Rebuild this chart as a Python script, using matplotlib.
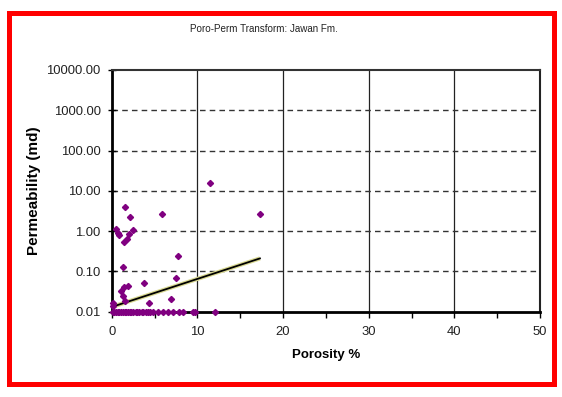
import matplotlib
matplotlib.use("Agg")
import matplotlib.pyplot as plt
from matplotlib.patches import Rectangle
from matplotlib.ticker import FixedLocator, FormatStrFormatter

plt.rcParams["font.family"] = ["Liberation Sans", "DejaVu Sans"]

# core data: porosity (%) vs permeability (md)
poro = [11.45, 1.52, 2.1, 5.9, 17.3, 0.5, 0.77, 0.8, 2.0, 2.45, 1.48, 1.76,
        7.7, 1.32, 7.5, 3.75, 1.45, 1.9, 1.05, 1.37, 1.6, 6.9, 4.4, 0.2, 0.2,
        0.1, 0.3, 0.5, 0.7, 0.9, 1.1, 1.3, 1.5, 1.7, 1.9, 2.1, 2.3, 2.5, 2.8,
        3.0, 3.2, 3.5, 3.7, 4.0, 4.2, 4.5, 4.8, 5.4, 6.0, 6.6, 7.1, 7.9, 8.3,
        9.5, 9.7, 12.0]
perm = [15.8, 3.9, 2.2, 2.7, 2.6, 1.1, 0.91, 0.8, 0.85, 1.05, 0.55, 0.62,
        0.24, 0.125, 0.07, 0.052, 0.042, 0.043, 0.032, 0.024, 0.018, 0.021,
        0.016, 0.016, 0.014,
        0.01, 0.01, 0.01, 0.01, 0.01, 0.01, 0.01, 0.01, 0.01, 0.01, 0.01,
        0.01, 0.01, 0.01, 0.01, 0.01, 0.01, 0.01, 0.01, 0.01, 0.01, 0.01,
        0.01, 0.01, 0.01, 0.01, 0.01, 0.01, 0.01, 0.01, 0.01]

# exponential trendline end points
trend_x = [0.1, 17.3]
trend_y = [0.0133, 0.21]

y_ticks = [0.01, 0.1, 1, 10, 100, 1000, 10000]
x_ticks = [0, 10, 20, 30, 40, 50]

fig = plt.figure(figsize=(5.62, 3.97), dpi=100)
ax = fig.add_axes([0.1988, 0.2149, 0.7621, 0.6088])

ax.set_yscale("log")
ax.set_xlim(0, 50)
ax.set_ylim(0.01, 10000)

# grid: solid verticals, dashed horizontals
for x in x_ticks[1:-1]:
    ax.axvline(x, color="#222222", lw=0.9, zorder=1)
for y in y_ticks[1:-1]:
    ax.axhline(y, color="#333333", lw=1.0, ls=(0, (4, 3)), zorder=1)

ax.plot(trend_x, trend_y, color="#d8d890", lw=3.0, zorder=2, solid_capstyle="butt")
ax.plot(trend_x, trend_y, color="black", lw=1.3, zorder=3)
ax.plot(poro, perm, ls="none", marker="D", ms=3.1, color="#800080",
        zorder=4, clip_on=False)

ax.yaxis.set_major_locator(FixedLocator(y_ticks))
ax.yaxis.set_minor_locator(FixedLocator([]))
ax.yaxis.set_major_formatter(FormatStrFormatter("%.2f"))
ax.xaxis.set_major_locator(FixedLocator(x_ticks))
ax.xaxis.set_minor_locator(FixedLocator([5, 15, 25, 35, 45]))

ax.tick_params(axis="y", which="major", direction="inout", length=6, width=1,
               labelsize=9.4, labelcolor="#222222", pad=5)
ax.tick_params(axis="x", which="major", direction="out", length=4, width=1,
               labelsize=9.4, labelcolor="#222222", pad=6)
ax.tick_params(axis="x", which="minor", direction="out", length=4, width=1)

ax.spines["left"].set_linewidth(2)
ax.spines["bottom"].set_linewidth(2)
ax.spines["top"].set_linewidth(1.5)
ax.spines["top"].set_color("#333333")
ax.spines["right"].set_linewidth(1.5)
ax.spines["right"].set_color("#222222")

ax.set_xlabel("Porosity %", fontsize=9.5, fontweight="bold", labelpad=8)
ax.set_ylabel("Permeability (md)", fontsize=11, fontweight="bold", labelpad=4)

fig.text(0.47, 0.928, "Poro-Perm Transform: Jawan Fm.", fontsize=7.1,
         ha="center", va="center", color="#222222")

fig.patches.append(Rectangle((0.0169, 0.0315), 0.968, 0.937, fill=False,
                             edgecolor="#ff0000", lw=3.6,
                             transform=fig.transFigure, figure=fig))

fig.savefig("out.png", dpi=100)
